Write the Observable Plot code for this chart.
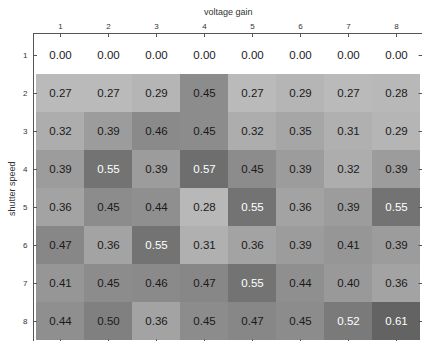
<!DOCTYPE html>
<html>
<head>
<meta charset="utf-8">
<script src="https://cdn.jsdelivr.net/npm/d3@7"></script>
<script src="https://cdn.jsdelivr.net/npm/@observablehq/plot@0.6"></script>
<style>
  html, body { margin: 0; padding: 0; background: #fff; overflow: hidden; }
  svg { max-width: none !important; display: block; }
</style>
</head>
<body>
<div id="chart"></div>
<script>
// Column categories (voltage gain) and row categories (shutter speed)
const voltageGain = [1, 2, 3, 4, 5, 6, 7, 8];
const shutterSpeed = [1, 2, 3, 4, 5, 6, 7, 8];

// Cell values, one array per shutter-speed row
const row1 = [0.00, 0.00, 0.00, 0.00, 0.00, 0.00, 0.00, 0.00];
const row2 = [0.27, 0.27, 0.29, 0.45, 0.27, 0.29, 0.27, 0.28];
const row3 = [0.32, 0.39, 0.46, 0.45, 0.32, 0.35, 0.31, 0.29];
const row4 = [0.39, 0.55, 0.39, 0.57, 0.45, 0.39, 0.32, 0.39];
const row5 = [0.36, 0.45, 0.44, 0.28, 0.55, 0.36, 0.39, 0.55];
const row6 = [0.47, 0.36, 0.55, 0.31, 0.36, 0.39, 0.41, 0.39];
const row7 = [0.41, 0.45, 0.46, 0.47, 0.55, 0.44, 0.40, 0.36];
const row8 = [0.44, 0.50, 0.36, 0.45, 0.47, 0.45, 0.52, 0.61];
const rows = [row1, row2, row3, row4, row5, row6, row7, row8];

const xLabel = "voltage gain";
const yLabel = "shutter speed";

const data = [];
rows.forEach((r, i) => r.forEach((v, j) => data.push({speed: shutterSpeed[i], gain: voltageGain[j], v})));

const W = 423, H = 344;
const mL = 33, mT = 33, mR = 0.4, mB = 0.6;
const plotW = W - mL - mR, plotH = H - mT - mB;
const tickLen = 4;
const axisColor = "#555";

const chart = Plot.plot({
  width: W,
  height: H,
  marginLeft: mL,
  marginTop: mT,
  marginRight: mR,
  marginBottom: mB,
  style: {fontFamily: "'Liberation Sans', Arial, sans-serif", background: "#fff", color: "#333"},
  x: {type: "band", domain: voltageGain, padding: 0, axis: null},
  y: {type: "band", domain: shutterSpeed, padding: 0, axis: null},
  color: {type: "linear", domain: [0, 1], range: ["#ffffff", "#000000"]},
  marks: [
    Plot.cell(data, {x: "gain", y: "speed", fill: "v", inset: 0, shapeRendering: "crispEdges"}),
    Plot.text(data, {
      x: "gain", y: "speed",
      text: d => d.v.toFixed(2),
      fill: d => d.v > 0.5 ? "#ffffff" : "#1a1a1a",
      fontSize: 11.5
    }),
    Plot.frame({stroke: axisColor, strokeWidth: 1}),
    // inward ticks on all four sides
    Plot.tickX(voltageGain, {x: d => d, insetBottom: plotH - tickLen, stroke: axisColor}),
    Plot.tickX(voltageGain, {x: d => d, insetTop: plotH - tickLen, stroke: axisColor}),
    Plot.tickY(shutterSpeed, {y: d => d, insetRight: plotW - tickLen, stroke: axisColor}),
    Plot.tickY(shutterSpeed, {y: d => d, insetLeft: plotW - tickLen, stroke: axisColor}),
    // tick labels
    Plot.axisX({anchor: "top", tickSize: 0, tickPadding: 5, fontSize: 8, label: null}),
    Plot.axisY({anchor: "left", tickSize: 0, tickPadding: 6, fontSize: 8, label: null}),
    // axis titles
    Plot.text([xLabel], {frameAnchor: "top", textAnchor: "middle", lineAnchor: "middle", dy: -21, fontSize: 9, fill: "#333"}),
    Plot.text([yLabel], {frameAnchor: "left", textAnchor: "middle", lineAnchor: "middle", dx: -21, rotate: -90, fontSize: 9, fill: "#333"})
  ]
});

document.getElementById("chart").appendChild(chart);
</script>
</body>
</html>
